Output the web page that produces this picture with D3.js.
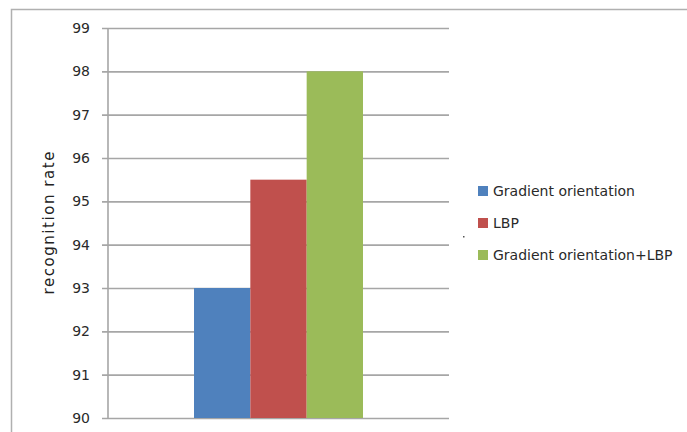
<!DOCTYPE html>
<html>
<head>
<meta charset="utf-8">
<script src="https://cdn.jsdelivr.net/npm/d3@7"></script>
<style>
body { margin: 0; background: #fff; }
svg { display: block; font-family: "DejaVu Sans", sans-serif; }
</style>
</head>
<body>
<svg width="687" height="432"></svg>
<script>
// chart data
var series = ["Gradient orientation", "LBP", "Gradient orientation+LBP"];
var values = [93, 95.5, 98];
var colors = ["#4F81BD", "#C0504D", "#9BBB59"];
var yTicks = [90, 91, 92, 93, 94, 95, 96, 97, 98, 99];

var svg = d3.select("svg");

// outer chart frame
svg.append("rect")
    .attr("x", 11.5).attr("y", 9.5)
    .attr("width", 690).attr("height", 440)
    .attr("fill", "none")
    .attr("stroke", "#b0b0b0")
    .attr("stroke-width", 1.5);

var plot = {left: 108, right: 449, top: 28, bottom: 418};

var y = d3.scaleLinear().domain([90, 99]).range([plot.bottom, plot.top]);
var x = d3.scaleBand().domain(series)
    .range([194, 363]).paddingInner(0).paddingOuter(0);

var g = svg.append("g");

// gridlines
g.selectAll(".grid")
  .data(yTicks)
  .enter().append("line")
    .attr("x1", plot.left - 6)
    .attr("x2", plot.right)
    .attr("y1", function(d) { return y(d) + 0.5; })
    .attr("y2", function(d) { return y(d) + 0.5; })
    .attr("stroke", "#a6a6a6")
    .attr("stroke-width", 1.6);

// bars
g.selectAll(".bar")
  .data(values)
  .enter().append("rect")
    .attr("class", "bar")
    .attr("x", function(d, i) { return x(series[i]); })
    .attr("width", x.bandwidth())
    .attr("y", function(d) { return y(d); })
    .attr("height", function(d) { return y(90) - y(d); })
    .attr("fill", function(d, i) { return colors[i]; });

// y axis
var axis = g.append("g")
    .attr("transform", "translate(" + plot.left + ",0)")
    .call(d3.axisLeft(y).tickValues(yTicks).tickSize(0).tickPadding(18).tickFormat(d3.format("d")));
axis.select(".domain")
    .attr("stroke", "#a6a6a6")
    .attr("stroke-width", 1.6)
    .attr("d", "M0," + plot.top + "V" + (plot.bottom + 1));
axis.selectAll("text")
    .attr("font-size", 14)
    .attr("font-family", "DejaVu Sans, sans-serif")
    .attr("fill", "#2a2a2a");

// axis title
svg.append("text")
    .attr("transform", "translate(54,223) rotate(-90)")
    .attr("text-anchor", "middle")
    .attr("font-size", 15)
    .attr("textLength", 143)
    .attr("lengthAdjust", "spacing")
    .attr("fill", "#222")
    .text("recognition rate");

// legend
var legend = svg.selectAll(".legend")
  .data(series)
  .enter().append("g")
    .attr("transform", function(d, i) { return "translate(478," + (191 + i * 32) + ")"; });
legend.append("rect")
    .attr("x", 0).attr("y", -5)
    .attr("width", 10).attr("height", 10)
    .attr("fill", function(d, i) { return colors[i]; });
legend.append("text")
    .attr("x", 15).attr("dy", "0.35em")
    .attr("font-size", 14)
    .attr("fill", "#2a2a2a")
    .text(function(d) { return d; });

// stray dot
svg.append("rect").attr("x", 463).attr("y", 236).attr("width", 1.5).attr("height", 1.5).attr("fill", "#555");
</script>
</body>
</html>
